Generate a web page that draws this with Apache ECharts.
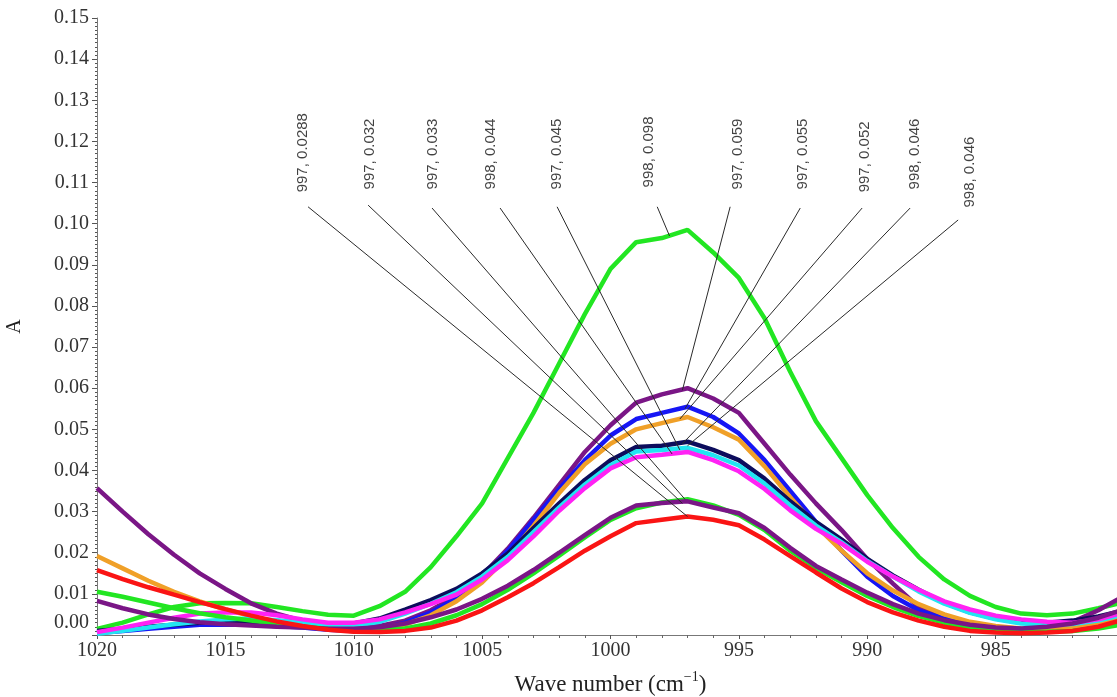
<!DOCTYPE html>
<html>
<head>
<meta charset="utf-8">
<script src="https://cdn.jsdelivr.net/npm/echarts@6/dist/echarts.min.js"></script>
<style>
html,body{margin:0;padding:0;background:#fff;overflow:hidden;width:100%;height:100%;}
#chart{position:absolute;left:0;top:0;width:1124px;height:697px;}
</style>
</head>
<body>
<div id="chart"></div>
<script>
// Wave numbers (cm-1)
const wavenumbers = [1020,1019,1018,1017,1016,1015,1014,1013,1012,1011,1010,1009,1008,1007,1006,1005,1004,1003,1002,1001,1000,999,998,997,996,995,994,993,992,991,990,989,988,987,986,985,984,983,982,981,980];

const greenHigh = [0.0015,0.003,0.005,0.0068,0.0077,0.0078,0.0077,0.0068,0.0058,0.0049,0.0047,0.0070,0.0105,0.0165,0.024,0.032,0.043,0.054,0.066,0.078,0.089,0.0955,0.0965,0.0985,0.093,0.0868,0.077,0.064,0.052,0.043,0.034,0.026,0.019,0.0135,0.0095,0.0068,0.0052,0.0048,0.0052,0.0065,0.008];
const purpleHigh = [0.0357,0.030,0.0245,0.0195,0.015,0.0112,0.0077,0.0052,0.0034,0.0024,0.002,0.0022,0.0035,0.006,0.0095,0.0145,0.021,0.0285,0.0365,0.0445,0.051,0.0565,0.0585,0.060,0.0575,0.054,0.0465,0.039,0.032,0.0255,0.0185,0.0125,0.0068,0.0038,0.002,0.0012,0.001,0.0018,0.0032,0.006,0.0095];
const blue = [0.0005,0.001,0.0015,0.002,0.0025,0.0025,0.0025,0.0022,0.0018,0.0013,0.001,0.0015,0.003,0.0055,0.009,0.014,0.0205,0.028,0.0355,0.0425,0.0485,0.0525,0.054,0.0555,0.053,0.049,0.0425,0.035,0.0275,0.0205,0.0142,0.0095,0.006,0.004,0.0025,0.0015,0.001,0.001,0.0015,0.002,0.003];
const orange = [0.0192,0.0162,0.0132,0.0105,0.0082,0.0062,0.0046,0.0032,0.0022,0.0014,0.001,0.0012,0.0025,0.0048,0.0082,0.0128,0.019,0.0265,0.0345,0.0415,0.0465,0.050,0.0515,0.053,0.0505,0.0475,0.041,0.0335,0.0265,0.0205,0.015,0.0108,0.0075,0.005,0.0032,0.0022,0.0016,0.0015,0.002,0.003,0.0042];
const navy = [0.001,0.0015,0.002,0.0025,0.003,0.0032,0.0032,0.003,0.0027,0.0025,0.0028,0.004,0.0062,0.0085,0.0112,0.015,0.0198,0.026,0.032,0.0377,0.0425,0.0457,0.046,0.047,0.045,0.0425,0.038,0.0325,0.0275,0.0232,0.0185,0.0145,0.011,0.0078,0.0055,0.004,0.003,0.003,0.0035,0.0045,0.006];
const cyan = [0.0003,0.001,0.0018,0.0026,0.0033,0.0038,0.004,0.0036,0.003,0.0024,0.0022,0.0032,0.0052,0.0076,0.0104,0.0142,0.019,0.025,0.031,0.0366,0.0413,0.0446,0.045,0.0455,0.0437,0.0412,0.0368,0.0315,0.0266,0.0225,0.018,0.0142,0.0106,0.0076,0.0054,0.0038,0.0028,0.0025,0.0027,0.0035,0.005];
const magenta = [0.0007,0.0018,0.003,0.0042,0.0052,0.0055,0.0055,0.0048,0.0038,0.003,0.003,0.0038,0.0055,0.0075,0.0098,0.0135,0.0182,0.024,0.0302,0.0357,0.0405,0.0432,0.0438,0.0445,0.0425,0.0398,0.0355,0.0303,0.0258,0.0222,0.0178,0.0142,0.011,0.0082,0.0062,0.0047,0.0038,0.0032,0.003,0.0038,0.0055];
const greenLow = [0.0105,0.0093,0.0079,0.0065,0.0053,0.0043,0.0035,0.0027,0.002,0.0015,0.0012,0.0012,0.0016,0.0028,0.0048,0.0075,0.011,0.015,0.0193,0.0237,0.028,0.0308,0.0322,0.033,0.0315,0.0292,0.0255,0.0205,0.0163,0.0128,0.0095,0.0068,0.0046,0.003,0.0019,0.0012,0.0008,0.0008,0.001,0.0016,0.0026];
const purpleLow = [0.0083,0.0065,0.005,0.0039,0.0031,0.0026,0.0023,0.002,0.0018,0.0015,0.0015,0.0019,0.0028,0.0043,0.0062,0.0088,0.012,0.0158,0.0200,0.0243,0.0285,0.0315,0.0321,0.0325,0.031,0.0296,0.026,0.0212,0.0168,0.0135,0.0103,0.0075,0.0052,0.0036,0.0025,0.0018,0.0016,0.002,0.0028,0.0042,0.0062];
const red = [0.0158,0.0136,0.0116,0.0098,0.008,0.0063,0.0047,0.0033,0.0022,0.0013,0.0008,0.0007,0.001,0.0018,0.0035,0.006,0.0092,0.0126,0.0165,0.0205,0.024,0.0272,0.028,0.0288,0.028,0.0267,0.0232,0.0192,0.0152,0.0113,0.008,0.0055,0.0035,0.002,0.001,0.0006,0.0004,0.0006,0.001,0.002,0.0038];

// Annotations: text, label anchor, leader start, leader end (data coords)
const annoText = ['997, 0.0288','997, 0.032','997, 0.033','998, 0.044','997, 0.045','998, 0.098','997, 0.059','997, 0.055','997, 0.052','998, 0.046','998, 0.046'];
const annoLabelX = [1011.97,1009.36,1006.91,1004.65,1002.08,998.50,995.03,992.50,990.08,988.13,985.99];
const annoLabelY = [0.1075,0.1082,0.1082,0.1082,0.1082,0.1087,0.1082,0.1082,0.1075,0.1082,0.1038];
const leaderStartX = [1011.78,1009.44,1006.95,1004.30,1002.08,998.18,995.34,992.61,990.20,988.33,986.46];
const leaderStartY = [0.1041,0.1045,0.1038,0.1038,0.1041,0.1041,0.1041,0.1038,0.1038,0.1038,0.1009];
const leaderEndX = [997.0,997.2,997.1,997.6,997.3,997.7,997.2,997.1,997.3,997.2,997.0];
const leaderEndY = [0.0288,0.032,0.033,0.044,0.045,0.097,0.0595,0.055,0.0525,0.0465,0.046];

const curveDefs = [
  {name:'green-high', data: greenHigh, color:'#22e622'},
  {name:'purple-high', data: purpleHigh, color:'#7a1686'},
  {name:'blue', data: blue, color:'#1616f5'},
  {name:'orange', data: orange, color:'#f0a028'},
  {name:'navy', data: navy, color:'#0c0c5c'},
  {name:'cyan', data: cyan, color:'#22e4f2'},
  {name:'magenta', data: magenta, color:'#ff22f4'},
  {name:'green-low', data: greenLow, color:'#22e622'},
  {name:'purple-low', data: purpleLow, color:'#7a1686'},
  {name:'red', data: red, color:'#fa1414'}
];

const serif = '"Liberation Serif","Times New Roman",serif';
const narrow = '"Liberation Sans Narrow","Arial Narrow","Liberation Sans",sans-serif';

const series = curveDefs.map(c => ({
  name: c.name,
  type: 'line',
  data: wavenumbers.map((w, i) => [w, c.data[i]]),
  showSymbol: false,
  symbol: 'none',
  lineStyle: {color: c.color, width: 4.5},
  itemStyle: {color: c.color},
  silent: true,
  clip: true,
  z: 2
}));

annoText.forEach((t, i) => {
  series.push({
    type: 'line',
    data: [[leaderStartX[i], leaderStartY[i]], [leaderEndX[i], leaderEndY[i]]],
    showSymbol: false,
    symbol: 'none',
    lineStyle: {color: '#2a2a2a', width: 1},
    silent: true,
    z: 5
  });
});

series.push({
  type: 'scatter',
  symbolSize: 1,
  itemStyle: {color: 'rgba(0,0,0,0)'},
  silent: true,
  z: 6,
  data: annoText.map((t, i) => ({name: t, value: [annoLabelX[i], annoLabelY[i]]})),
  label: {
    show: true,
    formatter: '{b}',
    position: [0, 0],
    rotate: 90,
    align: 'left',
    verticalAlign: 'middle',
    color: '#111',
    fontFamily: narrow,
    fontSize: 15
  }
});

const chart = echarts.init(document.getElementById('chart'), null, {width: 1124, height: 697});
chart.setOption({
  animation: false,
  backgroundColor: '#ffffff',
  grid: {left: 97, right: 0, top: 18, bottom: 62, containLabel: false, outerBoundsMode: 'none'},
  xAxis: {
    type: 'value',
    min: 980,
    max: 1020,
    interval: 5,
    inverse: true,
    name: '{a|Wave number (cm}{s|−1}{a|)}',
    nameLocation: 'middle',
    nameGap: 35,
    nameTextStyle: {
      rich: {
        a: {fontFamily: serif, fontSize: 23, color: '#222', lineHeight: 26, verticalAlign: 'bottom'},
        s: {fontFamily: serif, fontSize: 14, color: '#222', lineHeight: 15, verticalAlign: 'top'}
      }
    },
    axisLine: {show: true, onZero: false, lineStyle: {color: '#777', width: 1}},
    axisTick: {show: true, length: 4, lineStyle: {color: '#555'}},
    minorTick: {show: true, splitNumber: 5, length: 3, lineStyle: {color: '#666'}},
    splitLine: {show: false},
    axisLabel: {
      fontFamily: serif, fontSize: 20, color: '#333', margin: 6,
      showMinLabel: false,
      formatter: v => String(Math.round(v))
    }
  },
  yAxis: {
    type: 'value',
    min: 0,
    max: 0.15,
    interval: 0.01,
    name: 'A',
    nameLocation: 'middle',
    nameGap: 72,
    nameRotate: 90,
    nameTextStyle: {fontFamily: serif, fontSize: 20, color: '#222'},
    axisLine: {show: true, onZero: false, lineStyle: {color: '#777', width: 1}},
    axisTick: {show: true, length: 5, lineStyle: {color: '#555'}},
    minorTick: {show: true, splitNumber: 10, length: 2, lineStyle: {color: '#555'}},
    splitLine: {show: false},
    axisLabel: {
      fontFamily: serif, fontSize: 20, color: '#333', margin: 8,
      formatter: v => (Math.abs(v) < 1e-9 ? '{z|0.00}' : v.toFixed(2)),
      rich: {z: {fontFamily: serif, fontSize: 20, color: '#333', padding: [0, 0, 24, 0]}}
    }
  },
  series: series
});
</script>
</body>
</html>
